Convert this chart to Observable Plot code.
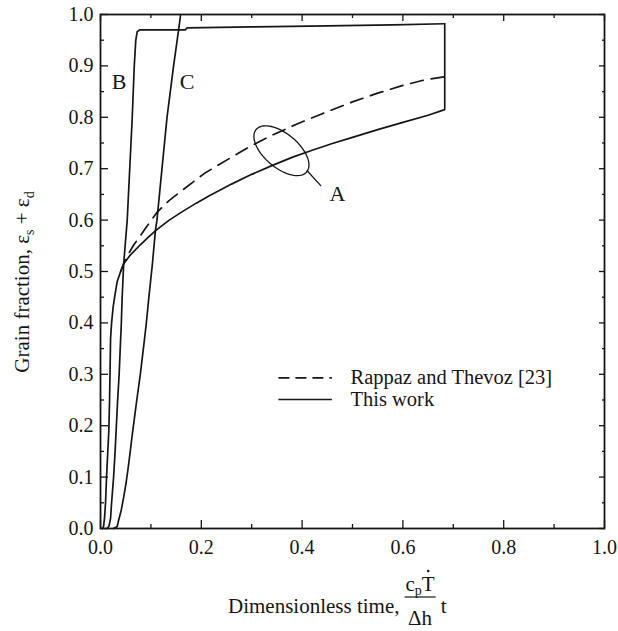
<!DOCTYPE html>
<html><head><meta charset="utf-8">
<script src="https://cdn.jsdelivr.net/npm/d3@7"></script>
<script src="https://cdn.jsdelivr.net/npm/@observablehq/plot@0.6"></script>
<style>
html,body{margin:0;padding:0;background:#fff;overflow:hidden;}
#chart{width:618px;height:631px;}
</style></head><body><div id="chart"></div>
<script>
// ---- data (x = dimensionless time, y = grain fraction) ----
const curveA_thisWork = [
 [0.004,0.000],[0.006,0.004],[0.008,0.020],[0.010,0.050],[0.012,0.100],[0.0145,0.150],[0.0165,0.190],
 [0.018,0.250],[0.019,0.310],[0.020,0.370],[0.022,0.400],[0.025,0.430],[0.028,0.450],[0.033,0.480],
 [0.040,0.500],[0.046,0.515],[0.060,0.533],[0.079,0.552],[0.095,0.567],[0.110,0.580],[0.135,0.599],
 [0.160,0.615],[0.190,0.633],[0.215,0.647],[0.260,0.670],[0.300,0.689],[0.340,0.706],[0.380,0.722],
 [0.420,0.736],[0.460,0.749],[0.500,0.761],[0.550,0.776],[0.600,0.790],[0.650,0.804],[0.683,0.815],
 [0.683,0.982]
];
const curveA_rappaz = [
 [0.040,0.500],[0.046,0.515],[0.056,0.535],[0.066,0.552],[0.078,0.568],[0.090,0.585],[0.112,0.615],
 [0.136,0.638],[0.165,0.660],[0.205,0.690],[0.230,0.705],[0.270,0.728],[0.300,0.745],[0.340,0.765],
 [0.390,0.787],[0.440,0.807],[0.500,0.830],[0.550,0.847],[0.600,0.862],[0.640,0.872],[0.683,0.879]
];
const curveB = [
 [0.013,0.000],[0.017,0.005],[0.020,0.020],[0.022,0.050],[0.026,0.100],[0.029,0.150],[0.031,0.190],
 [0.034,0.250],[0.037,0.300],[0.040,0.370],[0.041,0.390],[0.043,0.450],[0.046,0.515],[0.053,0.600],
 [0.058,0.700],[0.063,0.800],[0.067,0.900],[0.070,0.950],[0.073,0.967],[0.078,0.970],[0.168,0.970],
 [0.172,0.974],[0.300,0.976],[0.450,0.978],[0.580,0.980],[0.683,0.982]
];
const curveC = [
 [0.026,0.000],[0.033,0.004],[0.036,0.016],[0.041,0.035],[0.046,0.061],[0.051,0.090],[0.056,0.126],
 [0.064,0.190],[0.072,0.250],[0.079,0.300],[0.087,0.366],[0.091,0.400],[0.096,0.450],[0.103,0.515],
 [0.109,0.580],[0.112,0.600],[0.117,0.650],[0.122,0.700],[0.132,0.800],[0.145,0.900],[0.155,0.970],
 [0.159,1.000]
];
const xTicks = [0, 0.2, 0.4, 0.6, 0.8, 1.0];
const xMinorTicks = [0.1, 0.3, 0.5, 0.7, 0.9];
const yTicks = [0, 0.1, 0.2, 0.3, 0.4, 0.5, 0.6, 0.7, 0.8, 0.9, 1.0];
const yMinorTicks = [0.05, 0.15, 0.25, 0.35, 0.45, 0.55, 0.65, 0.75, 0.85, 0.95];
const legendLabels = ["Rappaz and Thevoz [23]", "This work"];
const curveLabels = ["A", "B", "C"];

// ---- layout / style ----
const W = 618, H = 631, ML = 100, MR = 14, MT = 14, MB = 103;
const ink = "#161616";
const serif = "'Liberation Serif', 'Times New Roman', 'DejaVu Serif', serif";
const kx = W - ML - MR, ky = H - MT - MB; // px per data unit
const dashCurve = "13,8", dashLegend = "11,6";

// annotation positions (data units)
const labelPos = {A: [0.470, 0.651], B: [0.037, 0.868], C: [0.172, 0.868]};
const leader = [[0.410, 0.696], [0.437, 0.667]];
const ell = {cx: 0.359, cy: 0.735, a: 33, b: 17, angle: 40};
const ellipsePts = d3.range(0, 361, 5).map(t => {
  const r = t * Math.PI / 180, th = ell.angle * Math.PI / 180;
  const dx = ell.a * Math.cos(r) * Math.cos(th) - ell.b * Math.sin(r) * Math.sin(th);
  const dy = ell.a * Math.cos(r) * Math.sin(th) + ell.b * Math.sin(r) * Math.cos(th);
  return [ell.cx + dx / kx, ell.cy - dy / ky];
});
const legendX = [0.354, 0.460], legendTextX = 0.496, legendY = [0.293, 0.251];

const fmt = d3.format(".1f");
const lineOpts = {x: d => d[0], y: d => d[1], stroke: ink, strokeWidth: 1.7};

const plot = Plot.plot({
  width: W, height: H, marginLeft: ML, marginRight: MR, marginTop: MT, marginBottom: MB,
  x: {domain: [0, 1]}, y: {domain: [0, 1]},
  style: {fontFamily: serif, fontSize: "20px", color: ink, background: "#fff", overflow: "visible"},
  marks: [
    Plot.axisX(xTicks, {anchor: "bottom", tickSize: -8, tickPadding: 19, tickFormat: fmt, fontSize: 20, label: null, strokeWidth: 1.3}),
    Plot.axisX(xMinorTicks, {anchor: "bottom", tickSize: -4, tickFormat: () => "", label: null, strokeWidth: 1.3}),
    Plot.axisX(xTicks, {anchor: "top", tickSize: -6, tickFormat: () => "", label: null, strokeWidth: 1.3}),
    Plot.axisX(xMinorTicks, {anchor: "top", tickSize: -3, tickFormat: () => "", label: null, strokeWidth: 1.3}),
    Plot.axisY(yTicks, {anchor: "left", tickSize: -8, tickPadding: 15, tickFormat: fmt, fontSize: 20, label: null, strokeWidth: 1.3}),
    Plot.axisY(yMinorTicks, {anchor: "left", tickSize: -4, tickFormat: () => "", label: null, strokeWidth: 1.3}),
    Plot.axisY(yTicks, {anchor: "right", tickSize: -6, tickFormat: () => "", label: null, strokeWidth: 1.3}),
    Plot.axisY(yMinorTicks, {anchor: "right", tickSize: -3, tickFormat: () => "", label: null, strokeWidth: 1.3}),
    Plot.frame({stroke: ink, strokeWidth: 1.8}),
    Plot.line(curveA_rappaz, {...lineOpts, strokeDasharray: dashCurve}),
    Plot.line(curveA_thisWork, lineOpts),
    Plot.line(curveB, lineOpts),
    Plot.line(curveC, lineOpts),
    Plot.line(ellipsePts, {...lineOpts, strokeWidth: 1.3}),
    Plot.line(leader, {...lineOpts, strokeWidth: 1.3}),
    Plot.text(curveLabels, {x: d => labelPos[d][0], y: d => labelPos[d][1], text: d => d, fontSize: 22, fill: ink, lineAnchor: "middle"}),
    // legend
    Plot.ruleY([legendY[0]], {x1: legendX[0], x2: legendX[1], stroke: ink, strokeWidth: 1.7, strokeDasharray: dashLegend}),
    Plot.ruleY([legendY[1]], {x1: legendX[0], x2: legendX[1], stroke: ink, strokeWidth: 1.7}),
    Plot.text(legendLabels, {x: legendTextX, y: (d, i) => legendY[i], text: d => d, textAnchor: "start", lineAnchor: "middle", fontSize: 20.5, fill: ink})
  ]
});
document.getElementById("chart").append(plot);

// ---- axis titles with sub-scripts and a fraction ----
const svg = d3.select(plot);
const g = svg.append("g").attr("font-family", serif).attr("fill", ink).attr("text-anchor", "start");
const frameMidY = MT + ky / 2;
const yl = g.append("text")
  .attr("transform", `translate(${ML - 71},${frameMidY + 11}) rotate(-90)`)
  .attr("text-anchor", "middle").attr("font-size", 21);
yl.append("tspan").text("Grain fraction, ε");
yl.append("tspan").attr("font-size", 14).attr("dy", 5).text("s");
yl.append("tspan").attr("dy", -5).text(" + ε");
yl.append("tspan").attr("font-size", 14).attr("dy", 5).text("d");

const baseY = H - MB + 85; // baseline of the x title
const labelLeft = 228;
const xl = g.append("text").attr("x", labelLeft).attr("y", baseY).attr("font-size", 21).text("Dimensionless time,");
const w1 = xl.node().getComputedTextLength();
const fx = labelLeft + w1 + 5;
const num = g.append("text").attr("y", baseY - 22).attr("font-size", 21);
num.append("tspan").text("c");
num.append("tspan").attr("font-size", 14).attr("dy", 4).text("p");
num.append("tspan").attr("dy", -4).text("T");
const nw = num.node().getComputedTextLength();
const den = g.append("text").attr("y", baseY + 12).attr("font-size", 21).text("Δh");
const dw = den.node().getComputedTextLength();
const fw = Math.max(nw, dw) + 2;
num.attr("x", fx + (fw - nw) / 2);
den.attr("x", fx + (fw - dw) / 2);
g.append("line").attr("x1", fx).attr("x2", fx + fw).attr("y1", baseY - 16).attr("y2", baseY - 16)
  .attr("stroke", ink).attr("stroke-width", 1.2);
const tS = num.node().getStartPositionOfChar(2).x, tE = num.node().getEndPositionOfChar(2).x;
g.append("circle").attr("cx", (tS + tE) / 2).attr("cy", baseY - 42).attr("r", 1.3).attr("fill", ink);
g.append("text").attr("x", fx + fw + 5).attr("y", baseY).attr("font-size", 21).text("t");
</script></body></html>
